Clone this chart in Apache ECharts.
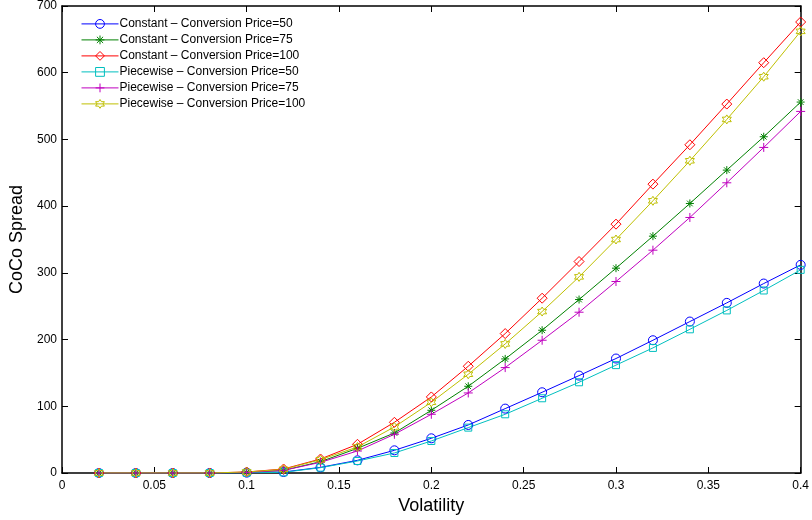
<!DOCTYPE html>
<html><head><meta charset="utf-8">
<script src="https://cdn.jsdelivr.net/npm/echarts@6/dist/echarts.min.js"></script>
<style>html,body{margin:0;padding:0;background:#fff}#c{width:812px;height:520px}</style>
</head><body><div id="c"></div>
<script>
const volatility = [0.02,0.04,0.06,0.08,0.10,0.12,0.14,0.16,0.18,0.20,0.22,0.24,0.26,0.28,0.30,0.32,0.34,0.36,0.38,0.40];
const constant50  = [0,0,0,0,0.5,1.5,8.5,19,34,52,72,96.5,121,146,171.6,199,227,255,284,312];
const constant75  = [0,0,0,0,1,4,17,37,60,94,130,171,214,260,307,355,404,454,504,556];
const constant100 = [0,0,0,0,1.5,6,21,43,76,114,160,209,262,317,373,433,492,553,615,676];
const piece50     = [0,0,0,0,0.3,1,8,18,30,48,68,88,112,136,161.7,187.5,215.4,243.7,273.6,304.5];
const piece75     = [0,0,0,0,1,4,16,33,58,88,120,158,199,241,287,334,383,435,488,542];
const piece100    = [0,0,0,0,1.5,5.5,20,39,69,106,148,193.5,242,294,350,408,468,530,594,662];
const seriesNames = ['Constant – Conversion Price=50','Constant – Conversion Price=75','Constant – Conversion Price=100','Piecewise – Conversion Price=50','Piecewise – Conversion Price=75','Piecewise – Conversion Price=100'];
const xTicks = [0,0.05,0.1,0.15,0.2,0.25,0.3,0.35,0.4];
const yTicks = [0,100,200,300,400,500,600,700];

function hexagram(){
  const pts=[];
  for(let i=0;i<12;i++){
    const a=-Math.PI/2+i*Math.PI/6, r=(i%2)?0.577:1;
    pts.push((r*Math.cos(a)).toFixed(3)+','+(r*Math.sin(a)).toFixed(3));
  }
  return 'path://M'+pts.join('L')+'Z';
}
const SYM = {
  circle:'circle',
  aster:'path://M0,-1L0,1M-1,0L1,0M-0.707,-0.707L0.707,0.707M-0.707,0.707L0.707,-0.707',
  diamond:'path://M0,-1L1,0L0,1L-1,0Z',
  square:'path://M-1,-1L1,-1L1,1L-1,1Z',
  plus:'path://M0,-1L0,1M-1,0L1,0',
  hex:hexagram()
};
const styles = [
  {c:'#0000ff', s:SYM.circle, z:9},
  {c:'#008000', s:SYM.aster, z:8},
  {c:'#ff0000', s:SYM.diamond, z:10},
  {c:'#00bfbf', s:SYM.square, z:7},
  {c:'#bf00bf', s:SYM.plus, z:9},
  {c:'#bfbf00', s:SYM.hex, z:9}
];
const data = [constant50,constant75,constant100,piece50,piece75,piece100];
const FONT = 'Liberation Sans';
const series = data.map((arr,i)=>({
  name: seriesNames[i],
  type:'line',
  data: volatility.map((v,j)=>[v,arr[j]]),
  symbol: styles[i].s,
  symbolSize: styles[i].z,
  showAllSymbol: true,
  lineStyle:{color:styles[i].c,width:1},
  itemStyle:{color:'none',borderColor:styles[i].c,borderWidth:1},
  emphasis:{disabled:true},
  animation:false
}));
const legendData = seriesNames.map((n,i)=>({
  name:n,
  itemStyle:{color:'none',borderColor:styles[i].c,borderWidth:1},
  lineStyle:{color:styles[i].c,width:1}
}));
const axisCommon = {
  axisLine:{show:true,onZero:false,lineStyle:{color:'#000',width:1.5}},
  axisTick:{show:true,inside:true,length:6,lineStyle:{color:'#000',width:1}},
  splitLine:{show:false}
};
const chart = echarts.init(document.getElementById('c'),null,{renderer:'canvas'});
chart.setOption({
  backgroundColor:'#fff',
  animation:false,
  textStyle:{fontFamily:FONT},
  grid:{left:62,right:6,top:5,bottom:46,containLabel:false},
  legend:{
    orient:'vertical', left:76, top:12,
    itemWidth:37, itemHeight:11, itemGap:2.2,
    textStyle:{fontFamily:FONT,fontSize:12,color:'#000',padding:[0,0,0,-4]},
    data: legendData,
    selectedMode:false
  },
  xAxis:[
    Object.assign({type:'value',min:0,max:0.4,interval:0.05,position:'bottom',
      name:'Volatility',nameLocation:'middle',nameGap:24,
      nameTextStyle:{fontFamily:FONT,fontSize:18,color:'#000'},
      axisLabel:{fontFamily:FONT,fontSize:12,color:'#000',margin:7,
        formatter:v=>{const t=xTicks.find(x=>Math.abs(x-v)<1e-9);return t===undefined?'':String(t);}}},axisCommon),
    Object.assign({type:'value',min:0,max:0.4,interval:0.05,position:'top',axisLabel:{show:false}},axisCommon)
  ],
  yAxis:[
    Object.assign({type:'value',min:0,max:700,interval:100,position:'left',
      name:'CoCo Spread',nameLocation:'middle',nameGap:35,nameRotate:90,
      nameTextStyle:{fontFamily:FONT,fontSize:18,color:'#000'},
      axisLabel:{fontFamily:FONT,fontSize:12,color:'#000',margin:5,
        formatter:v=>{const t=yTicks.find(x=>Math.abs(x-v)<1e-9);return t===undefined?'':String(t);}}},axisCommon),
    Object.assign({type:'value',min:0,max:700,interval:100,position:'right',axisLabel:{show:false}},axisCommon)
  ],
  series: series
});
</script></body></html>
